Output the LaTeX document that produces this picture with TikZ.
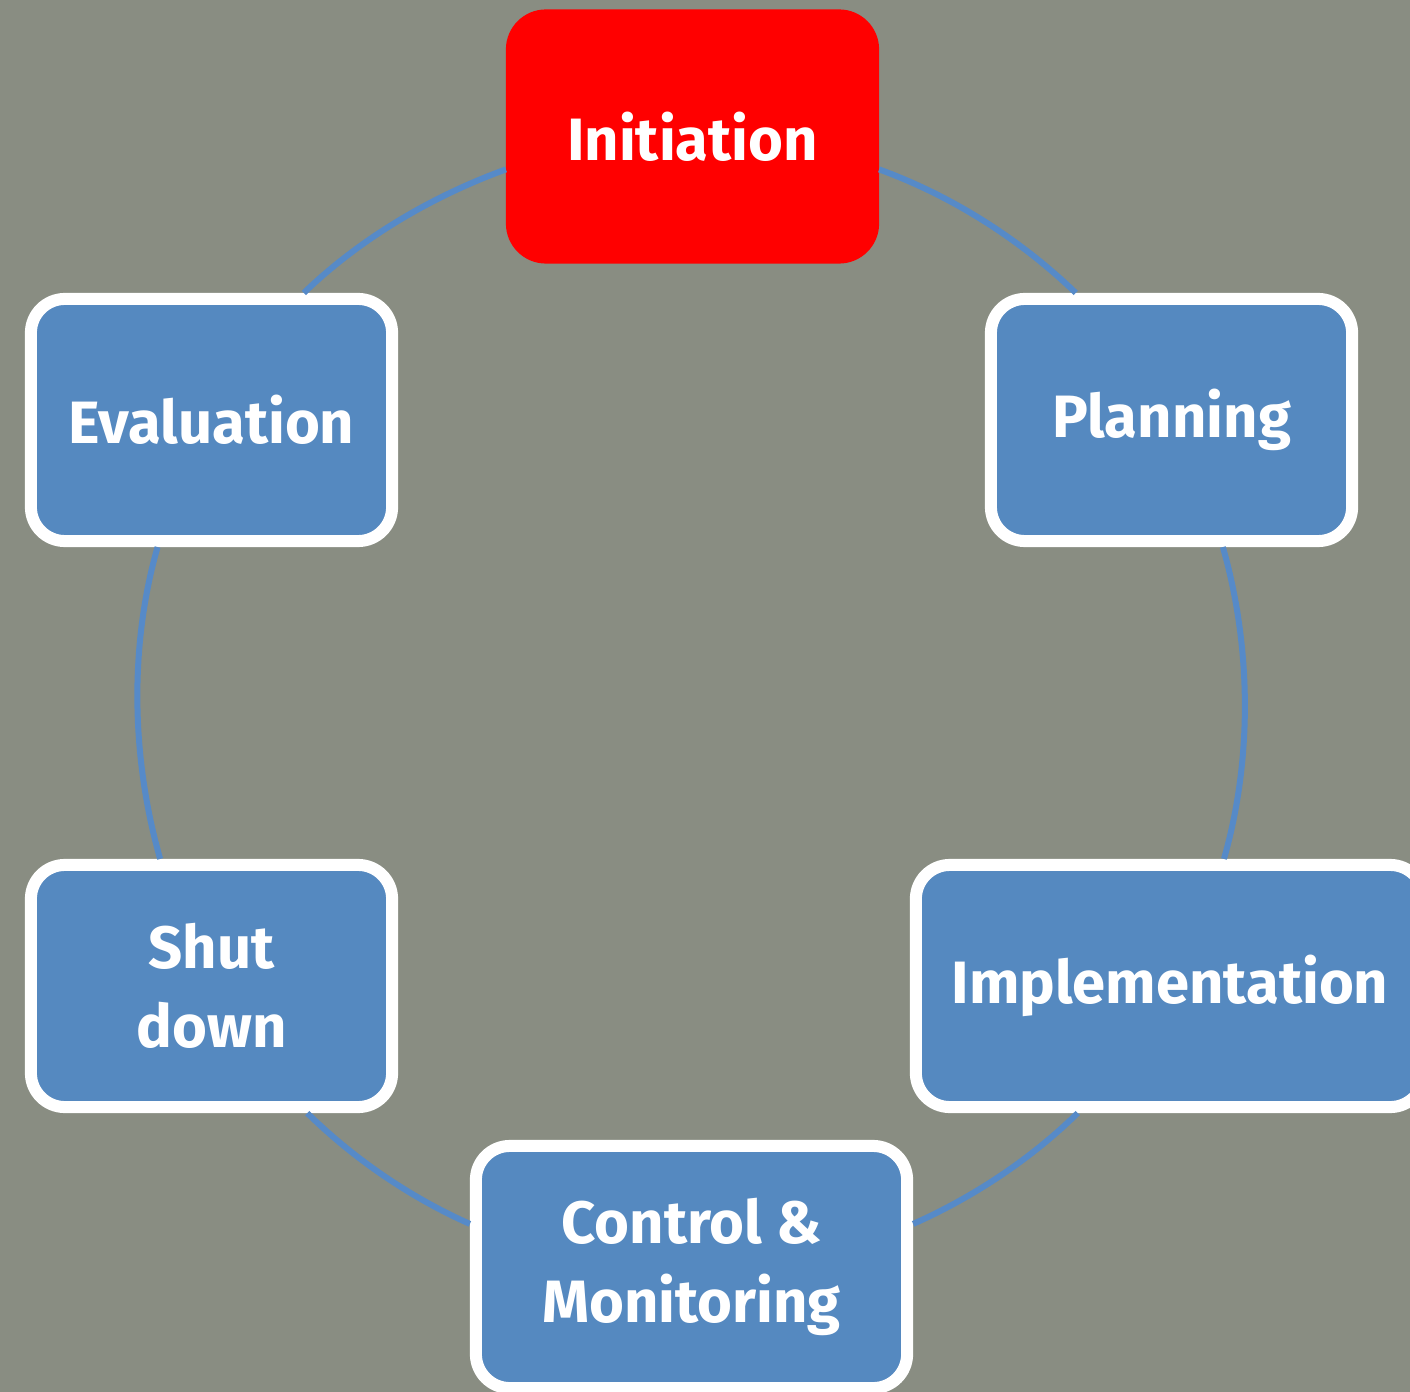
\documentclass[tikz,border=0pt]{standalone}
\usepackage{fontspec}
\setmainfont{Fira Sans}
\definecolor{wallgray}{RGB}{137,141,130}
\definecolor{stageblue}{RGB}{85,137,192}
\definecolor{ringblue}{RGB}{86,138,200}

\begin{document}
\begin{tikzpicture}[x=0.01cm, y=0.01cm,
  every node/.style = {shape=rectangle, rounded corners=0.34cm,
    draw=white, line width=0.12cm, fill=stageblue, text=white,
    align=center, minimum width=3.61cm, minimum height=2.42cm,
    font=\fontsize{17}{22.5}\selectfont\bfseries},
  link/.style={draw=ringblue, line width=0.06cm, looseness=0.85}
  ]
  \useasboundingbox (0,0) rectangle (1410,-1392);
  \clip (0,0) rectangle (1410,-1392);
  \fill[wallgray] (0,0) rectangle (1410,-1392);
  \node[fill=red, draw=red] (init) at (692.5,-136.5) {Initiation};
  \node (plan) at (1171.5,-420) {Planning};
  \node[minimum width=5.08cm] (impl) at (1170,-986) {Implementation};
  \node[minimum width=4.31cm] (ctrl) at (691.5,-1267) {Control \&\\Monitoring};
  \node (shut) at (211.5,-986) {Shut\\down};
  \node (eval) at (211.5,-420) {Evaluation};
  \draw[link] (init.-10) to[out=-20, in=136] (plan.127);
  \draw[link] (plan.-68) to[out=-74, in=74] (impl.67);
  \draw[link] (impl.-126) to[out=-135.5, in=24] (ctrl.11);
  \draw[link] (ctrl.169) to[out=156, in=-44.5] (shut.-53);
  \draw[link] (shut.112) to[out=106, in=-106] (eval.-113);
  \draw[link] (eval.54) to[out=44, in=200] (init.190);
\end{tikzpicture}
\end{document}
